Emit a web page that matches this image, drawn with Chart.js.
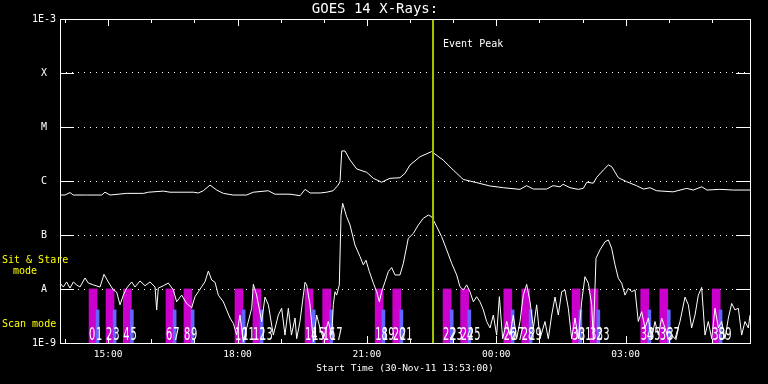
<!DOCTYPE html>
<html>
<head>
<meta charset="utf-8">
<script src="https://cdn.jsdelivr.net/npm/chart.js@4"></script>
<style>
  html, body { margin: 0; padding: 0; background: #000; }
  #wrap { width: 768px; height: 384px; }
</style>
</head>
<body>
<div id="wrap"><canvas id="chart" width="768" height="384"></canvas></div>
<script>
// time axis: minutes after 30-Nov-11 13:53:00
const hourTicks = [7, 67, 127, 187, 247, 307, 367, 427, 487, 547, 607, 667, 727, 787, 847, 907];
const timeTicks = [67, 247, 427, 607, 787];
const timeLabels = ['15:00', '18:00', '21:00', '00:00', '03:00'];

// flux axis (W/m^2) and GOES class letters
const yTicks = [1e-9, 1e-8, 1e-7, 1e-6, 1e-5, 1e-4, 1e-3];
const yLabels = ['1E-9', 'A', 'B', 'C', 'M', 'X', '1E-3'];

const eventPeak = 519;

// GOES 14 long channel [minute, flux]
const longChan = [
  [0, 5.5e-7], [7, 5.5e-7], [14, 6.1e-7], [18.5, 5.5e-7], [37, 5.5e-7], [58, 5.5e-7], [62.6, 6.2e-7], [69.6, 5.5e-7],
  [92.8, 5.9e-7], [116, 5.9e-7], [123, 6.2e-7], [143.7, 6.5e-7], [153, 6.2e-7], [167, 6.2e-7], [185.5, 6.2e-7],
  [192.4, 6.0e-7], [199.4, 6.6e-7], [208.7, 8.4e-7], [218, 6.8e-7], [227.2, 5.9e-7], [241, 5.5e-7], [259.7, 5.5e-7],
  [269, 6.2e-7], [289.8, 6.6e-7], [299, 5.7e-7], [320, 5.7e-7], [334, 5.35e-7], [341, 7.0e-7], [348, 6.0e-7],
  [362, 6.0e-7], [371, 6.2e-7], [380, 6.6e-7], [387, 8.4e-7], [389.6, 9.7e-7], [392, 3.6e-6], [396.5, 3.6e-6],
  [403.5, 2.45e-6], [412.8, 1.67e-6], [426.7, 1.45e-6], [436, 1.12e-6], [447.5, 9.5e-7], [459, 1.12e-6],
  [473, 1.15e-6], [480, 1.39e-6], [487, 1.98e-6], [501, 2.82e-6], [517, 3.5e-6], [533, 2.45e-6], [547, 1.6e-6],
  [561, 1.07e-6], [580, 9.3e-7], [598, 8.1e-7], [617, 7.5e-7], [640, 7.0e-7], [649, 8.2e-7], [658.5, 7.1e-7],
  [677, 7.1e-7], [686, 8.2e-7], [695.6, 7.8e-7], [700, 8.7e-7], [709.6, 7.5e-7], [721, 7.0e-7], [728, 7.3e-7],
  [733, 9.5e-7], [742, 9.1e-7], [746.7, 1.17e-6], [756, 1.6e-6], [763, 1.98e-6], [767.6, 1.84e-6], [776.8, 1.15e-6],
  [788.4, 9.7e-7], [802, 8.2e-7], [811.6, 7.1e-7], [821, 7.5e-7], [830, 6.6e-7], [853, 6.3e-7], [872, 7.3e-7],
  [881, 6.8e-7], [893, 7.8e-7], [900, 6.8e-7], [918, 7.0e-7], [937, 6.8e-7], [960, 6.8e-7]
];

// GOES 14 short channel [minute, flux]
const shortChan = [
  [0, 1.29e-8], [4.6, 1.09e-8], [9.3, 1.35e-8], [13.9, 1.04e-8], [18.6, 1.35e-8], [23.2, 1.19e-8], [27.8, 1.09e-8],
  [34.8, 1.6e-8], [39.4, 1.29e-8], [46.4, 1.19e-8], [55.7, 1.09e-8], [61.2, 1.87e-8], [67.2, 1.35e-8], [74.2, 9.6e-9],
  [78.8, 8.8e-9], [83.5, 5.1e-9], [88.1, 7.7e-9], [92.8, 1.04e-8], [99.7, 1.35e-8], [104.3, 1.09e-8], [111.3, 1.41e-8],
  [118.3, 1.15e-8], [125.2, 1.35e-8], [132.2, 1.09e-8], [134.5, 4.1e-9], [136.8, 1.04e-8], [143.8, 1.15e-8],
  [150.7, 1.29e-8], [157.7, 9.6e-9], [162.3, 5.8e-9], [169.3, 7.7e-9], [176.2, 5.4e-9], [183.2, 4.5e-9], [187.8, 7.2e-9],
  [192.5, 8.9e-9], [197.1, 1.1e-8], [201.7, 1.36e-8], [206.4, 2.15e-8], [211, 1.47e-8], [215.7, 1.33e-8], [220.3, 7.7e-9],
  [227.2, 5.8e-9], [231.9, 4.1e-9], [236.5, 2.9e-9], [241.2, 2.3e-9], [245.8, 1.4e-9], [250.4, 3.3e-9], [255.1, 1.06e-9],
  [259.7, 1.9e-9], [266.7, 4.4e-9], [269, 1.22e-8], [273.6, 7.7e-9], [280.6, 2.5e-9], [285.2, 7.1e-9], [289.9, 5.1e-9],
  [296.8, 1.4e-9], [303.8, 3.3e-9], [308.4, 4.4e-9], [313, 1.4e-9], [317.7, 4.4e-9], [322, 1.4e-9], [327, 2.9e-9],
  [329.3, 1.2e-9], [333.9, 2.5e-9], [338.6, 7.7e-9], [340.9, 1.33e-8], [343.2, 1.19e-8], [347.8, 5.1e-9], [352.5, 1.06e-9],
  [357.1, 3.3e-9], [361.7, 1.9e-9], [366.4, 1.2e-9], [373.3, 2.5e-9], [378, 1.4e-9], [380.3, 5.1e-9], [382.6, 8.9e-9],
  [384.9, 7.7e-9], [388.6, 1.19e-8], [391, 2.34e-7], [393.3, 3.86e-7], [398.8, 2.18e-7], [403.5, 1.53e-7], [410.4, 6.5e-8],
  [417.4, 4.0e-8], [422, 2.8e-8], [425.7, 3.4e-8], [430.4, 2.1e-8], [436, 1.28e-8], [440.6, 8.9e-9], [444.3, 5.8e-9],
  [447.5, 8.9e-9], [452.2, 1.36e-8], [456.8, 2.1e-8], [461.4, 2.5e-8], [466.1, 1.82e-8], [473, 1.82e-8], [477.7, 3.0e-8],
  [484.6, 8.7e-8], [491.6, 1.07e-7], [498.5, 1.53e-7], [505.5, 2.04e-7], [512.5, 2.34e-7], [517.1, 2.18e-7], [524.1, 1.43e-7],
  [531, 9.3e-8], [538, 5.3e-8], [544.9, 3.0e-8], [551.9, 1.82e-8], [556.5, 1.1e-8], [561.2, 9.6e-9], [565.8, 1.19e-8],
  [570.4, 8.9e-9], [575.1, 5.8e-9], [579.7, 7.2e-9], [584.3, 5.8e-9], [589, 4.1e-9], [593.6, 2.5e-9], [598.3, 1.9e-9],
  [602.9, 3.3e-9], [607.5, 1.4e-9], [611.3, 7.2e-9], [615.9, 1.2e-9], [621.5, 2.5e-9], [626.1, 1.4e-9], [630.7, 3.3e-9],
  [635.4, 1.2e-9], [640, 2.5e-9], [644.6, 7.7e-9], [649.3, 1.22e-8], [653.9, 5.8e-9], [658.6, 1.9e-9], [663.2, 5.1e-9],
  [667.8, 1.2e-9], [674.8, 2.5e-9], [679.4, 1.2e-9], [684.1, 3.3e-9], [688.7, 7.1e-9], [693.3, 3.3e-9], [698, 8.9e-9],
  [702.6, 9.6e-9], [707.2, 4.4e-9], [711.9, 1.2e-9], [716.5, 2.9e-9], [721.2, 1.2e-9], [725.8, 5.8e-9], [730.4, 1.69e-8],
  [735.1, 1.28e-8], [739.7, 5.1e-9], [742, 1.2e-9], [745.7, 3.7e-8], [751.3, 5.3e-8], [758.3, 7.5e-8], [762.9, 8.1e-8],
  [767.5, 5.7e-8], [772.2, 2.8e-8], [776.8, 1.58e-8], [781.5, 1.28e-8], [786.1, 7.7e-9], [790.7, 1.03e-8], [795.4, 8.9e-9],
  [800, 9.6e-9], [804.6, 2.5e-9], [809.3, 3.8e-9], [813.9, 1.9e-9], [818.6, 2.9e-9], [823.2, 1.2e-9], [827.8, 2.5e-9],
  [832.5, 1.4e-9], [837.1, 2.9e-9], [841.7, 1.9e-9], [846.4, 1.2e-9], [851, 1.4e-9], [855.7, 1.2e-9], [862.6, 2.5e-9],
  [869.6, 7.1e-9], [874.2, 5.1e-9], [878.8, 1.9e-9], [883.5, 3.3e-9], [888.1, 7.7e-9], [892.8, 1.07e-8], [897.4, 1.4e-9],
  [902, 2.5e-9], [906.7, 1.2e-9], [911.3, 4.4e-9], [916, 1.9e-9], [920.6, 2.5e-9], [925.2, 1.2e-9], [929.9, 2.9e-9],
  [934.5, 5.4e-9], [939.1, 4.1e-9], [943.8, 4.4e-9], [948.4, 1.4e-9], [953, 2.5e-9], [957.7, 1.9e-9], [960, 3.3e-9]
];

// observation blocks (centre minute of each bar)
const sitStareTimes = [46, 69.6, 93.7, 153, 178, 249, 274, 346.5, 371, 444, 468.5, 538.5, 563, 623, 648, 718, 743, 813.5, 840, 913];
const scanTimes = [52.3, 76, 100, 159.5, 184.5, 255.5, 280.5, 353, 377.5, 450, 475, 545, 569.5, 629.7, 654.8, 724, 749, 820, 847, 919];
const sitStareTop = 1e-8;
const scanTop = 4.1e-9;
const rasterLabels = ['0','1','2','3','4','5','6','7','8','9','10','11','12','13','14','15','16','17','18','19',
  '20','21','22','23','24','25','26','27','28','29','30','31','32','33','34','35','36','37','38','39'];

const mono = "'DejaVu Sans Mono', monospace";

const overlay = {
  id: 'overlay',
  beforeDraw(chart) {
    const c = chart.ctx;
    c.save();
    c.fillStyle = '#000';
    c.fillRect(0, 0, chart.width, chart.height);
    c.restore();
  },
  afterDraw(chart) {
    const c = chart.ctx;
    const a = chart.chartArea;
    const xs = chart.scales.x, ys = chart.scales.y;
    c.save();
    c.strokeStyle = '#fff';
    c.lineWidth = 1;
    c.strokeRect(Math.round(a.left) + 0.5, Math.round(a.top) + 0.5, Math.round(a.right - a.left), Math.round(a.bottom - a.top));

    // inward ticks
    c.beginPath();
    yTicks.slice(1, -1).forEach(v => {
      const y = Math.round(ys.getPixelForValue(v)) + 0.5;
      c.moveTo(a.left, y); c.lineTo(a.left + 14, y);
      c.moveTo(a.right - 14, y); c.lineTo(a.right, y);
    });
    hourTicks.forEach(v => {
      const x = Math.round(xs.getPixelForValue(v)) + 0.5;
      const len = timeTicks.includes(v) ? 7 : 4;
      c.moveTo(x, a.top); c.lineTo(x, a.top + len);
      c.moveTo(x, a.bottom); c.lineTo(x, a.bottom - len);
    });
    c.stroke();

    // raster numbers
    c.fillStyle = '#fff';
    c.font = "18px 'DejaVu Sans'";
    c.textBaseline = 'alphabetic';
    c.textAlign = 'left';
    sitStareTimes.forEach((t, k) => {
      const x1 = xs.getPixelForValue(t) - 4;
      const x2 = xs.getPixelForValue(scanTimes[k]) - 1.5;
      [[x1, rasterLabels[2 * k]], [x2, rasterLabels[2 * k + 1]]].forEach(([x, s]) => {
        c.save();
        c.translate(x, a.bottom - 3);
        c.scale(0.55, 1);
        c.fillText(s, 0, 0);
        c.restore();
      });
    });

    // event label
    c.font = '10px ' + mono;
    c.fillText('Event Peak', xs.getPixelForValue(eventPeak) + 10, 47);

    // mode captions
    c.fillStyle = '#ffff00';
    c.fillText('Sit & Stare', 2, 263);
    c.fillText('mode', 13, 274);
    c.fillText('Scan mode', 2, 327);
    c.restore();
  }
};

new Chart(document.getElementById('chart'), {
  type: 'line',
  data: {
    datasets: [
      { label: 'Event Peak', data: [{ x: eventPeak, y: 1e-9 }, { x: eventPeak, y: 1e-3 }],
        borderColor: '#a0c800', borderWidth: 2, pointRadius: 0, order: 1 },
      { label: 'Long', data: longChan.map(p => ({ x: p[0], y: p[1] })),
        borderColor: '#ffffff', borderWidth: 1, pointRadius: 0, tension: 0, order: 2 },
      { label: 'Short', data: shortChan.map(p => ({ x: p[0], y: p[1] })),
        borderColor: '#ffffff', borderWidth: 1, pointRadius: 0, tension: 0, order: 3 },
      { type: 'bar', label: 'Scan', data: scanTimes.map(t => ({ x: t, y: [1e-9, scanTop] })),
        backgroundColor: '#6464ff', barThickness: 3, grouped: false, order: 4 },
      { type: 'bar', label: 'Sit & Stare', data: sitStareTimes.map(t => ({ x: t, y: [1e-9, sitStareTop] })),
        backgroundColor: '#cc00cc', barThickness: 8, grouped: false, order: 5 }
    ]
  },
  options: {
    responsive: false,
    animation: false,
    devicePixelRatio: 1,
    layout: { padding: { left: 0, right: 18, top: 0, bottom: 0 } },
    plugins: {
      legend: { display: false },
      tooltip: { enabled: false },
      title: { display: true, text: 'GOES 14 X-Rays:', color: '#fff',
        font: { family: mono, size: 14, weight: 'normal' }, padding: { top: 1.2, bottom: 1 } }
    },
    scales: {
      x: {
        type: 'linear', min: 0, max: 960, offset: false,
        grid: { display: false, drawTicks: false }, border: { display: false },
        afterBuildTicks: s => { s.ticks = timeTicks.map(v => ({ value: v })); },
        ticks: { color: '#fff', font: { family: mono, size: 9.5 }, padding: 6, maxRotation: 0, autoSkip: false,
          callback: v => timeLabels[timeTicks.indexOf(v)] },
        title: { display: true, text: 'Start Time (30-Nov-11 13:53:00)', color: '#fff',
          font: { family: mono, size: 9.5 }, padding: { top: 0, bottom: 10 } },
        afterFit: s => { s.height = 41; }
      },
      y: {
        type: 'logarithmic', min: 1e-9, max: 1e-3,
        grid: { drawTicks: false, lineWidth: 1,
          color: ctx => (ctx.tick && (ctx.tick.value === 1e-9 || ctx.tick.value === 1e-3)) ? 'rgba(0,0,0,0)' : '#ffffff' },
        border: { display: false, dash: [1, 5] },
        afterBuildTicks: s => { s.ticks = yTicks.map(v => ({ value: v })); },
        ticks: { color: '#fff', font: { family: mono, size: 10 }, padding: 4, crossAlign: 'center', autoSkip: false,
          callback: v => yLabels[yTicks.indexOf(v)] },
        afterFit: s => { s.width = 60; }
      }
    }
  },
  plugins: [overlay]
});
</script>
</body>
</html>
